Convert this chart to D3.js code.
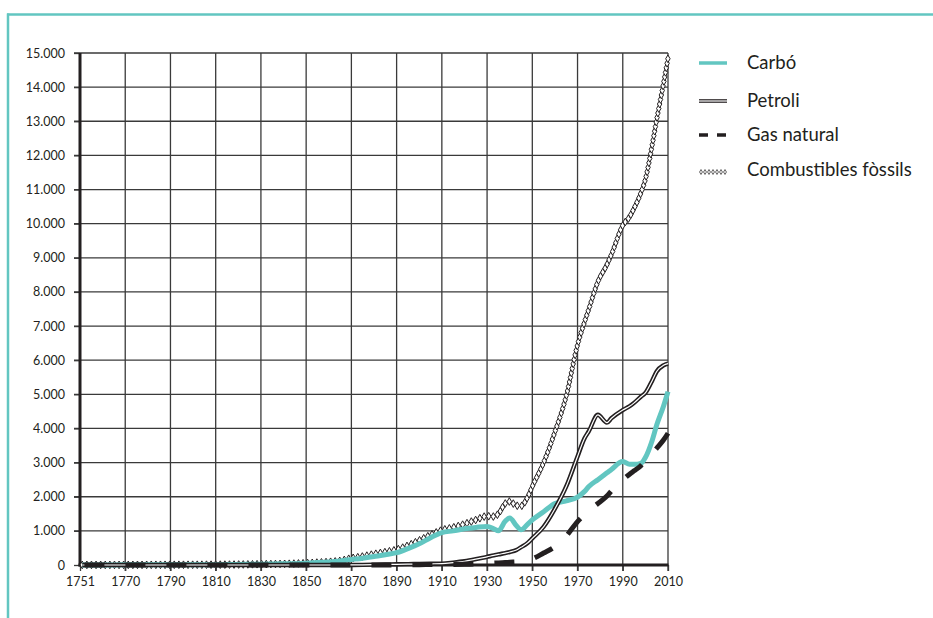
<!DOCTYPE html>
<html>
<head>
<meta charset="utf-8">
<script src="https://cdn.jsdelivr.net/npm/d3@7"></script>
<style>
body { margin: 0; background: #fff; }
svg { display: block; }
text { font-family: Lato, "Open Sans", sans-serif; fill: #231f20; }
</style>
</head>
<body>
<svg width="933" height="618"></svg>
<script>
// valors llegits del gràfic original
let years   = [1751, 1760, 1770, 1780, 1790, 1800, 1810, 1820, 1830, 1840, 1850, 1855, 1860, 1865, 1870, 1875, 1880, 1885, 1890, 1895, 1900, 1905, 1910, 1915, 1920, 1925, 1930, 1933, 1935, 1938, 1940, 1943, 1945, 1948, 1950, 1955, 1960, 1965, 1970, 1973, 1975, 1979, 1983, 1985, 1990, 1993, 1995, 1998, 2000, 2003, 2005, 2008, 2010]
let carbo   = [3, 3, 4, 5, 7, 8, 10, 14, 24, 33, 54, 70, 91, 120, 160, 200, 250, 300, 360, 480, 620, 800, 950, 1000, 1060, 1100, 1130, 1060, 1000, 1280, 1380, 1150, 1030, 1200, 1320, 1560, 1800, 1880, 1990, 2150, 2300, 2500, 2700, 2800, 3030, 2950, 2950, 2980, 3150, 3650, 4100, 4650, 5080]
let petroli = [0, 0, 0, 0, 0, 0, 0, 0, 0, 0, 0, 0, 0, 1, 2, 4, 10, 15, 20, 25, 30, 35, 40, 70, 110, 170, 240, 280, 310, 350, 380, 440, 520, 650, 780, 1120, 1650, 2300, 3180, 3700, 3920, 4400, 4170, 4300, 4540, 4650, 4750, 4930, 5040, 5400, 5670, 5850, 5900]
let gas     = [0, 0, 0, 0, 0, 0, 0, 0, 0, 0, 0, 0, 0, 0, 0, 0, 0, 0, 5, 7, 10, 12, 15, 17, 20, 30, 50, 55, 60, 70, 80, 90, 100, 140, 180, 350, 540, 850, 1270, 1470, 1600, 1800, 2020, 2170, 2500, 2660, 2760, 2910, 3060, 3260, 3420, 3660, 3860]
let fossils = [3, 3, 4, 5, 7, 8, 10, 14, 24, 33, 54, 71, 91, 122, 200, 250, 320, 380, 450, 570, 720, 880, 1020, 1100, 1200, 1320, 1430, 1420, 1500, 1800, 1860, 1740, 1730, 2000, 2300, 3000, 3900, 4950, 6450, 7100, 7500, 8300, 8800, 9100, 9950, 10200, 10450, 10900, 11300, 12300, 13050, 14100, 14850]

let xTicks  = [1750, 1770, 1790, 1810, 1830, 1850, 1870, 1890, 1910, 1930, 1950, 1970, 1990, 2010]
let xLabels = ['1751', '1770', '1790', '1810', '1830', '1850', '1870', '1890', '1910', '1930', '1950', '1970', '1990', '2010']
let yTicks  = [0, 1000, 2000, 3000, 4000, 5000, 6000, 7000, 8000, 9000, 10000, 11000, 12000, 13000, 14000, 15000]

let seriesNames = ['Carbó', 'Petroli', 'Gas natural', 'Combustibles fòssils']

let teal = '#62c6c1'
let ink = '#231f20'

let svg = d3.select('svg')

// marc
svg.append('line').attr('x1', 7).attr('x2', 933).attr('y1', 14.5).attr('y2', 14.5)
  .attr('stroke', teal).attr('stroke-width', 2.5)
svg.append('line').attr('x1', 8).attr('x2', 8).attr('y1', 13.5).attr('y2', 618)
  .attr('stroke', teal).attr('stroke-width', 2.5)

let x = d3.scaleLinear().domain([1750, 2010]).range([80, 668])
let y = d3.scaleLinear().domain([0, 15000]).range([565, 53])

let locale = d3.formatLocale({ decimal: ',', thousands: '.', grouping: [3], currency: ['', ''] })
let fmt = locale.format(',')

// graella
let grid = svg.append('g').attr('stroke', '#3a3a3a').attr('stroke-width', 1.3)
grid.selectAll('.h').data(yTicks.slice(1)).enter().append('line')
  .attr('x1', 74).attr('x2', 668)
  .attr('y1', d => y(d)).attr('y2', d => y(d))
grid.selectAll('.v').data(xTicks.slice(1)).enter().append('line')
  .attr('x1', d => x(d)).attr('x2', d => x(d))
  .attr('y1', 53).attr('y2', 571)

// eixos
let yAxis = d3.axisLeft(y).tickValues(yTicks).tickSize(6).tickFormat(fmt)
let gy = svg.append('g').attr('transform', 'translate(80,0)').call(yAxis)
gy.select('.domain').remove()
gy.selectAll('.tick line').attr('stroke', '#3a3a3a').attr('stroke-width', 1.3)
gy.selectAll('.tick text').attr('x', -15).style('font-size', '12.5px').style('font-family', 'Lato, sans-serif').attr('fill', ink)

let xAxis = d3.axisBottom(x).tickValues(xTicks).tickSize(6).tickFormat((d, i) => xLabels[i])
let gx = svg.append('g').attr('transform', 'translate(0,565)').call(xAxis)
gx.select('.domain').remove()
gx.selectAll('.tick line').attr('stroke', '#3a3a3a').attr('stroke-width', 1.3)
gx.selectAll('.tick text').attr('y', 12).style('font-size', '12.5px').style('font-family', 'Lato, sans-serif').attr('fill', ink)

svg.append('line').attr('x1', 80).attr('x2', 80).attr('y1', 53).attr('y2', 566.5)
  .attr('stroke', ink).attr('stroke-width', 3)
svg.append('line').attr('x1', 78.5).attr('x2', 668.5).attr('y1', 565).attr('y2', 565)
  .attr('stroke', ink).attr('stroke-width', 3)

function line(values) {
  return d3.line()
    .x((d, i) => x(years[i]))
    .y(d => y(d))
    .curve(d3.curveMonotoneX)(values)
}

let plot = svg.append('g')

// combustibles fòssils: cadena de rombes al llarg de la corba
let guide = plot.append('path').attr('d', line(fossils)).attr('fill', 'none').attr('stroke', 'none')
let total = guide.node().getTotalLength()
let pts = d3.range(0, total, 4.6).map(l => guide.node().getPointAtLength(l))
let diamond = d3.symbol(d3.symbolDiamond, 17)
plot.selectAll('.dia').data(pts).enter().append('path')
  .attr('transform', p => 'translate(' + p.x + ',' + p.y + ')')
  .attr('d', diamond)
  .attr('fill', '#fff').attr('stroke', ink).attr('stroke-width', 1)

// carbó
plot.append('path').attr('d', line(carbo)).attr('fill', 'none')
  .attr('stroke', teal).attr('stroke-width', 5).attr('stroke-linejoin', 'round')

// petroli: línia doble
plot.append('path').attr('d', line(petroli)).attr('fill', 'none')
  .attr('stroke', ink).attr('stroke-width', 4.4)
plot.append('path').attr('d', line(petroli)).attr('fill', 'none')
  .attr('stroke', '#fff').attr('stroke-width', 1.2)

// gas natural: el darrer traç acaba al 2010
let gasPath = plot.append('path').attr('d', line(gas)).attr('fill', 'none')
  .attr('stroke', ink).attr('stroke-width', 5).attr('stroke-dasharray', '20,21')
let gasLen = gasPath.node().getTotalLength()
gasPath.attr('stroke-dashoffset', 41 - ((gasLen - 20) % 41))

// llegenda
let legend = svg.append('g').attr('transform', 'translate(699,0)')
let rows = [63, 101, 135, 170]
legend.selectAll('text').data(seriesNames).enter().append('text')
  .attr('x', 48).attr('y', (d, i) => rows[i]).attr('dy', '0.35em')
  .style('font-size', '18.5px').text(d => d)

legend.append('line').attr('x1', 0).attr('x2', 28).attr('y1', rows[0]).attr('y2', rows[0])
  .attr('stroke', teal).attr('stroke-width', 3.5)
legend.append('line').attr('x1', 0).attr('x2', 28).attr('y1', rows[1]).attr('y2', rows[1])
  .attr('stroke', ink).attr('stroke-width', 3.6)
legend.append('line').attr('x1', 0).attr('x2', 28).attr('y1', rows[1]).attr('y2', rows[1])
  .attr('stroke', '#fff').attr('stroke-width', 1.2)
legend.append('line').attr('x1', 0).attr('x2', 28).attr('y1', rows[2]).attr('y2', rows[2])
  .attr('stroke', ink).attr('stroke-width', 3.5).attr('stroke-dasharray', '9,9')
legend.selectAll('.ld').data(d3.range(7)).enter().append('path')
  .attr('transform', d => 'translate(' + (2 + d * 4) + ',' + (rows[3] + 2) + ')')
  .attr('d', d3.symbol(d3.symbolDiamond, 7))
  .attr('fill', '#fff').attr('stroke', ink).attr('stroke-width', 0.7)
</script>
</body>
</html>
